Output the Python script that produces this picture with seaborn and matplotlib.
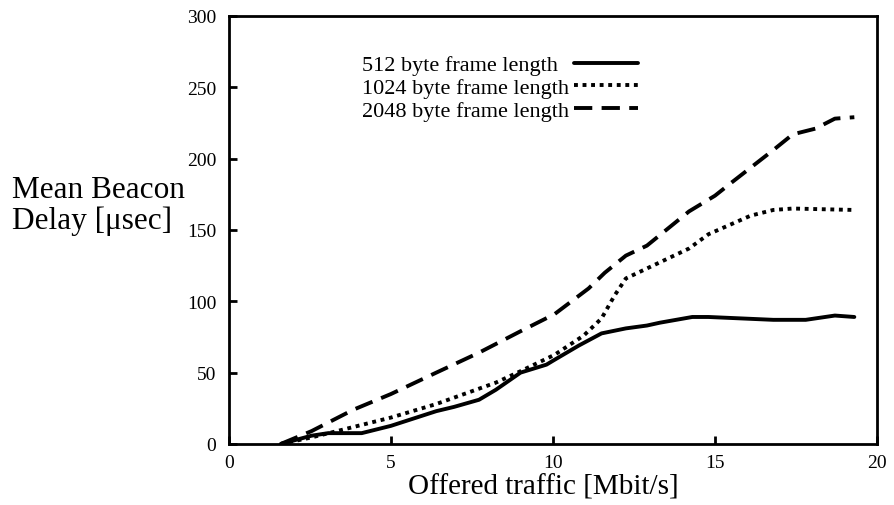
import matplotlib
matplotlib.use("Agg")
import matplotlib.pyplot as plt
import seaborn as sns
import pandas as pd

x_512 = [1.6, 2.55, 3.07, 4.1, 5.0, 6.4, 6.95, 7.72, 8.24, 9.0, 9.8, 10.05, 10.8, 11.5, 12.25, 12.9, 13.3, 14.3, 14.8, 16.8, 17.8, 18.7, 19.3]
y_512 = [0, 5.8, 7.6, 7.6, 12.7, 23, 26, 31, 38, 50, 55.6, 59, 69, 77.5, 81, 83, 85, 89, 89, 87, 87, 90, 89]

x_1024 = [1.6, 2.55, 3.58, 5.0, 6.4, 8.24, 9.0, 10.05, 10.95, 11.5, 11.9, 12.25, 12.9, 14.2, 14.8, 15.5, 16.1, 16.8, 17.4, 19.3]
y_1024 = [0, 4.6, 10.4, 18.5, 28, 43, 51, 62.5, 76, 88, 104, 116, 123, 137, 147, 154, 160, 164, 165, 164]

x_2048 = [1.6, 2.55, 3.84, 5.0, 6.4, 7.72, 9.0, 10.05, 11.1, 11.6, 12.25, 12.9, 14.2, 15.0, 15.5, 16.8, 17.4, 18.1, 18.7, 19.3]
y_2048 = [0, 9, 24, 35, 50, 64, 79, 91, 109, 120, 132, 139, 163, 174, 183, 206, 217, 221, 228, 229]

labels = ["512 byte frame length\u2007", "1024 byte frame length", "2048 byte frame length"]

df = pd.concat([
    pd.DataFrame({"x": x_512, "y": y_512, "series": labels[0]}),
    pd.DataFrame({"x": x_1024, "y": y_1024, "series": labels[1]}),
    pd.DataFrame({"x": x_2048, "y": y_2048, "series": labels[2]}),
])

sns.set_style("ticks")
plt.rcParams['font.family'] = ['Liberation Serif', 'DejaVu Serif']
plt.rcParams.update({"text.color": "black", "axes.labelcolor": "black",
                     "xtick.color": "black", "ytick.color": "black"})

fig = plt.figure(figsize=(8.94, 5.06), dpi=100)
ax = fig.add_axes([0.256, 0.1206, 0.725, 0.846])

styles = {labels[0]: None, labels[1]: (0, (1, 1.2)), labels[2]: (0, (4.7, 2.4))}
for lab in labels:
    sub = df[df.series == lab]
    sns.lineplot(data=sub, x="x", y="y", ax=ax, color="black", linewidth=2.8,
                 label=lab, sort=False)
    if styles[lab] is not None:
        ax.lines[-1].set_linestyle(styles[lab])

ax.set_xlim(0, 20)
ax.set_ylim(0, 300)
ax.set_xticks([0, 5, 10, 15, 20])
ax.set_yticks([0, 50, 100, 150, 200, 250, 300])
ax.tick_params(direction="in", length=6, width=2, labelsize=14, colors="black")
ax.tick_params(axis="x", pad=7)
ax.tick_params(axis="y", pad=9)
for s in ax.spines.values():
    s.set_linewidth(2)
    s.set_color("black")
ax.set_xlabel("Offered traffic [Mbit/s]", fontsize=21, color="black")
ax.xaxis.set_label_coords(0.485, -0.07, transform=ax.transAxes)
ax.xaxis.label.set_va("top")
ax.set_ylabel("")
fig.text(0.013, 0.593, "Mean Beacon\nDelay [μsec]", fontsize=22.5, ha="left", va="center",
         linespacing=1.05, color="black")

leg = ax.legend(loc="upper left", bbox_to_anchor=(0.192, 0.93), frameon=False,
                markerfirst=False, fontsize=16, handlelength=2.9, labelspacing=0.1,
                handletextpad=0.2, borderaxespad=0, labelcolor="black")

fig.savefig("out.png", dpi=100)
